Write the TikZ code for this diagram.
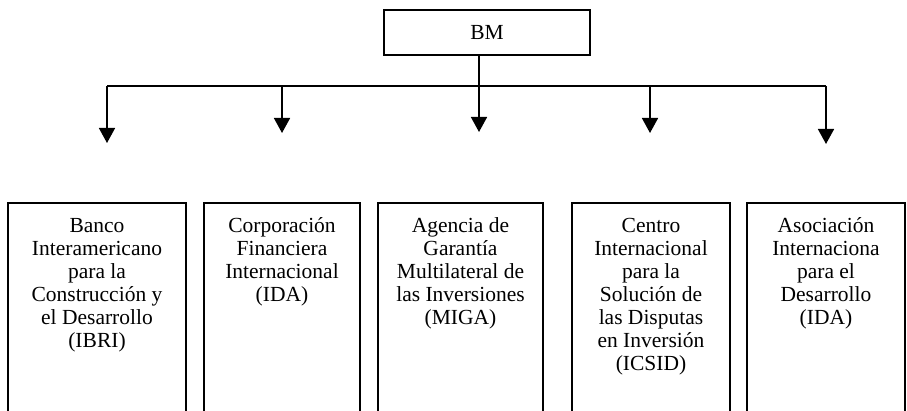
\documentclass[tikz,border=0pt]{standalone}
\usepackage{fontspec}
\setmainfont{Liberation Serif}
\usetikzlibrary{arrows.meta,positioning}

\begin{document}
\begin{tikzpicture}[x=1pt,y=-1pt,line width=1.6pt,
  font=\fontsize{21.5}{23}\selectfont,
  topbox/.style={draw,minimum width=206pt,minimum height=45pt,inner sep=0pt},
  orgbox/.style={draw,anchor=north,inner xsep=0pt,inner ysep=14pt,
    execute at begin node={\begin{minipage}[t][200pt][t]{150pt}\centering\strut},
    execute at end node={\end{minipage}}},
  down/.style={-{Triangle[length=15pt,width=16pt]}}]
\useasboundingbox (0,0) rectangle (907,411);
\clip (0,0) rectangle (907,411);
% head of the chart
\node[topbox] (bm) at (487,32.5) {BM};
% branch line
\coordinate (t1) at (107,86);
\coordinate (t2) at (282,86);
\coordinate (t3) at (479,86);
\coordinate (t4) at (650,86);
\coordinate (t5) at (826,86);
\coordinate (e1) at (107,143);
\coordinate (e2) at (282,133);
\coordinate (e3) at (479,132);
\coordinate (e4) at (650,133);
\coordinate (e5) at (826,144);
\draw (t3 |- bm.south) -- (t3);
\draw (t1) -- (t5);
\foreach \i in {1,...,5}
  \draw[down] (t\i) -- (e\i);
% the five institutions
\node[orgbox,minimum width=178pt] (ibri) at (97,202)
  {Banco\\Interamericano\\para la\\Construcción y\\el Desarrollo\\(IBRI)};
\node[orgbox,minimum width=156pt] (ifc) at (282,202)
  {Corporación\\Financiera\\Internacional\\(IDA)};
\node[orgbox,minimum width=165pt] (miga) at (460.5,202)
  {Agencia de\\Garantía\\Multilateral de\\las Inversiones\\(MIGA)};
\node[orgbox,minimum width=158pt] (icsid) at (651,202)
  {Centro\\Internacional\\para la\\Solución de\\las Disputas\\en Inversión\\(ICSID)};
\node[orgbox,minimum width=158pt] (ida) at (826,202)
  {Asociación\\Internaciona\\para el\\Desarrollo\\(IDA)};
\end{tikzpicture}
\end{document}
